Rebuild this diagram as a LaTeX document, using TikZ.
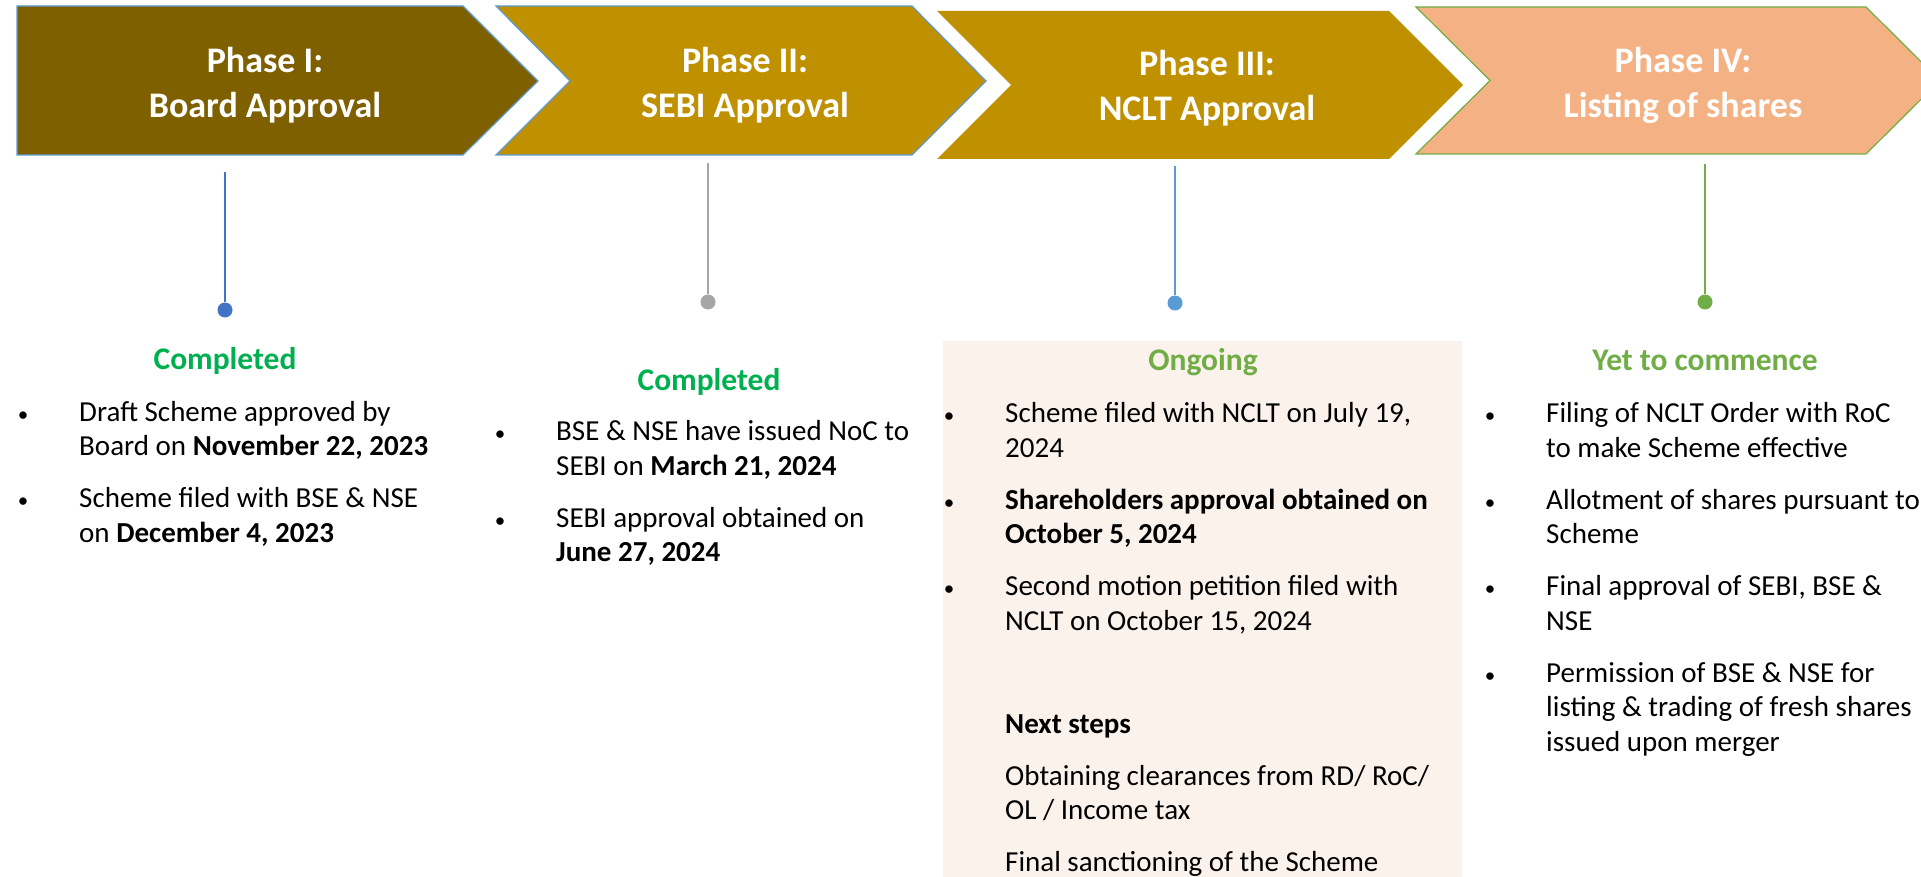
\documentclass[tikz,border=0pt]{standalone}
\usepackage{fontspec}
\setmainfont{Carlito}
\usepackage{tikz}
\usetikzlibrary{positioning}

\definecolor{boardbrown}{HTML}{7F6000}
\definecolor{sebigold}{HTML}{BF9000}
\definecolor{listpeach}{HTML}{F4B183}
\definecolor{edgeblue}{HTML}{5B9BD5}
\definecolor{edgegreen}{HTML}{70AD47}
\definecolor{doneblue}{HTML}{4472C4}
\definecolor{donegreen}{HTML}{00B050}
\definecolor{waitgreen}{HTML}{70AD47}
\definecolor{stemgray}{HTML}{A5A5A5}
\definecolor{boxpeach}{HTML}{FCF2EC}

\newcommand{\bodyfont}{\fontsize{29}{34.5}\selectfont}
\newcommand{\pitem}[1]{\par\hangindent=56pt\hangafter=1\noindent\makebox[0pt]{\fontsize{21}{21}\selectfont\textbullet}\hspace{56pt}#1\par}
\newcommand{\pline}[1]{\par\noindent#1\par}
\newcommand{\plist}[1]{\parbox[t]{520pt}{\bodyfont\rightskip=0pt plus 1fil\setlength{\parskip}{17.5pt}#1}}

\begin{document}
\begin{tikzpicture}[x=1pt, y=-1pt, phasetext/.style={text=white, font=\fontsize{36}{45}\selectfont\bfseries, align=center}, statuslabel/.style={anchor=base, font=\fontsize{31.5}{38}\selectfont\bfseries}, itemlist/.style={anchor=base west, inner sep=0pt, font=\bodyfont}, stemline/.style={line width=2pt}, stemdot/.style={circle, fill, inner sep=0pt, minimum size=15pt}]

    \clip (0,0) rectangle (1921,877);

    %Shaded box behind the ongoing phase
    \fill[boxpeach] (943,341) rectangle (1462,877);

    %Chevrons
    \filldraw[fill=boardbrown, draw=edgeblue, line width=1.2pt] (17,6) -- (463,6) -- (538,81) -- (463,155) -- (17,155) -- cycle;
    \filldraw[fill=sebigold, draw=edgeblue, line width=1.2pt] (496,6) -- (912,6) -- (986,81) -- (912,155) -- (496,155) -- (570,81) -- cycle;
    \fill[sebigold] (937,11) -- (1389,11) -- (1463,85) -- (1389,159) -- (937,159) -- (1011,85) -- cycle;
    \filldraw[fill=listpeach, draw=edgegreen, line width=1.2pt] (1416,7) -- (1866,7) -- (1940,80.5) -- (1866,154) -- (1416,154) -- (1490,80.5) -- cycle;

    %Nodes
    \node[phasetext](board) at (265,85.5){Phase I:\\Board Approval};
    \node[phasetext](sebi) at (745,85.5){Phase II:\\SEBI Approval};
    \node[phasetext](nclt) at (1207,88.5){Phase III:\\NCLT Approval};
    \node[phasetext](listing) at (1683,85.5){Phase IV:\\Listing of shares};

    \node[stemdot, doneblue](dot_board) at (225,310){};
    \node[stemdot, stemgray](dot_sebi) at (708,302){};
    \node[stemdot, edgeblue](dot_nclt) at (1175,303){};
    \node[stemdot, edgegreen](dot_listing) at (1705,302){};
    \coordinate (top_board) at (225,172);
    \coordinate (top_sebi) at (708,163);
    \coordinate (top_nclt) at (1175,166);
    \coordinate (top_listing) at (1705,164);

    \node[statuslabel, text=donegreen](done_board) at (225,369){Completed};
    \node[statuslabel, text=donegreen](done_sebi) at (709,390){Completed};
    \node[statuslabel, text=waitgreen](ongoing) at (1203,370){Ongoing};
    \node[statuslabel, text=waitgreen](pending) at (1705,370){Yet to commence};

    \node[itemlist](list_board) at (23,421){\plist{%
        \pitem{Draft Scheme approved by\\ Board on \textbf{November 22, 2023}}
        \pitem{Scheme filed with BSE \& NSE\\ on \textbf{December 4, 2023}}}};
    \node[itemlist](list_sebi) at (500,440.7){\plist{%
        \pitem{BSE \& NSE have issued NoC to\\ SEBI on \textbf{March 21, 2024}}
        \pitem{SEBI approval obtained on\\ \textbf{June 27, 2024}}}};
    \node[itemlist](list_nclt) at (949,422.5){\plist{%
        \pitem{Scheme filed with NCLT on July 19,\\ 2024}
        \pitem{\textbf{Shareholders approval obtained on\\ October 5, 2024}}
        \pitem{Second motion petition filed with\\ NCLT on October 15, 2024}}};
    \node[itemlist](next_nclt) at (1005,733){\plist{%
        \pline{\textbf{Next steps}}
        \pline{Obtaining clearances from RD/ RoC/\\ OL / Income tax}
        \pline{Final sanctioning of the Scheme}}};
    \node[itemlist](list_listing) at (1490,422.5){\plist{%
        \pitem{Filing of NCLT Order with RoC\\ to make Scheme effective}
        \pitem{Allotment of shares pursuant to\\ Scheme}
        \pitem{Final approval of SEBI, BSE \&\\ NSE}
        \pitem{Permission of BSE \& NSE for\\ listing \& trading of fresh shares\\ issued upon merger}}};

    %Lines
    \draw[stemline, doneblue] (top_board) -- (dot_board);
    \draw[stemline, stemgray] (top_sebi) -- (dot_sebi);
    \draw[stemline, edgeblue] (top_nclt) -- (dot_nclt);
    \draw[stemline, edgegreen] (top_listing) -- (dot_listing);

\end{tikzpicture}
\end{document}
